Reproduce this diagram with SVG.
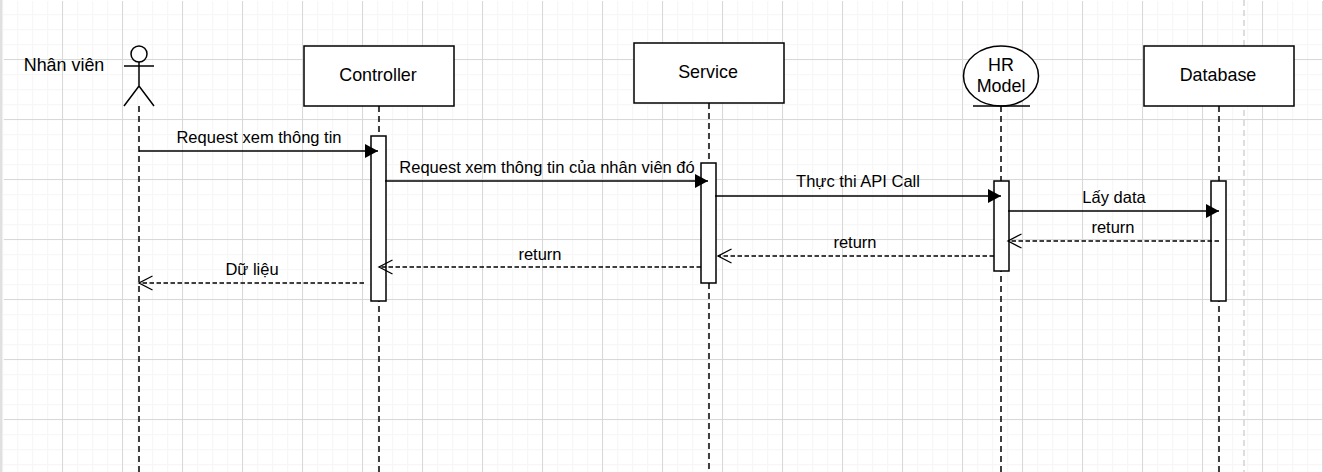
<svg xmlns="http://www.w3.org/2000/svg" width="1323" height="472" viewBox="0 0 1323 472">
<style>
.t{font-family:"Liberation Sans",Arial,sans-serif;font-size:16.5px;fill:#000;text-anchor:middle}
.n{font-size:17.9px}
.b{fill:#fff;stroke:#000;stroke-width:1.5}
.ll{fill:none;stroke:#000;stroke-width:1.5;stroke-dasharray:6 4}
.m{fill:none;stroke:#000;stroke-width:1.5;marker-end:url(#solid)}
.r{fill:none;stroke:#000;stroke-width:1.5;stroke-dasharray:4.500 2.500;marker-end:url(#open)}
</style>
<defs>
<marker id="solid" markerUnits="userSpaceOnUse" markerWidth="15" markerHeight="16" refX="13" refY="7" orient="auto"><path d="M0 0L13 7L0 14Z" fill="#000"/></marker>
<marker id="open" markerUnits="userSpaceOnUse" markerWidth="16" markerHeight="16" refX="14" refY="7.500" orient="auto"><path d="M0.500 0.500L14 7.500L0.500 14.500" fill="none" stroke="#000" stroke-width="1.300"/></marker>
<pattern id="minor" width="15" height="15" patternUnits="userSpaceOnUse" x="2" y="14"><path d="M0.500 0V15M0 0.500H15" stroke="#f7f7f7" stroke-width="1.500" fill="none"/></pattern>
<pattern id="major" width="60" height="60" patternUnits="userSpaceOnUse" x="2" y="-1"><path d="M0.500 0V60M0 0.500H60" stroke="#d8d8d8" stroke-width="1" fill="none"/></pattern>
</defs>
<rect width="1323" height="472" fill="#fff"/>
<rect x="3" y="1" width="1320" height="471" fill="url(#minor)"/>
<rect x="4" y="1" width="1319" height="471" fill="url(#major)"/>
<rect x="0" y="0" width="2.500" height="472" fill="#e0e0e0"/>
<path d="M1244 0V472" stroke="#c8c8c8" stroke-width="1.200" stroke-dasharray="6 4"/>
<g id="lifelines">
<path class="ll" d="M139 106V472"/><path class="ll" d="M379 106V472"/><path class="ll" d="M709 103V472"/><path class="ll" d="M1001 106V472"/><path class="ll" d="M1219 106V472"/>
</g>
<g id="actor">
<circle cx="139" cy="54" r="8" fill="#fff" stroke="#000" stroke-width="1.500"/>
<path d="M139 62V86M124 66H154M124 106L139 86L154 106" fill="none" stroke="#000" stroke-width="1.500"/>
<text class="t n" x="64" y="71">Nhân viên</text>
</g>
<g id="controller"><rect class="b" x="304" y="46" width="150" height="60"/><text class="t n" x="378" y="81">Controller</text></g>
<g id="service"><rect class="b" x="634" y="43" width="150" height="60"/><text class="t n" x="708" y="78">Service</text></g>
<g id="hrmodel"><ellipse class="b" cx="1001" cy="76" rx="37.500" ry="30"/><path d="M973 106H1030" stroke="#000" stroke-width="1.500"/><text class="t n" x="1001" y="71">HR</text><text class="t n" x="1001" y="92">Model</text></g>
<g id="database"><rect class="b" x="1144" y="46" width="150" height="60"/><text class="t n" x="1218" y="81">Database</text></g>
<g id="activations">
<rect class="b" x="371" y="136" width="15" height="165"/>
<rect class="b" x="701" y="163" width="15" height="120"/>
<rect class="b" x="994" y="181" width="15" height="90"/>
<rect class="b" x="1211" y="181" width="15" height="120"/>
</g>
<g id="connectors">
<path class="m" d="M139 151H378"/>
<path class="m" d="M385 181H708"/>
<path class="m" d="M715 196H1001"/>
<path class="m" d="M1008 211H1219"/>
<path class="r" d="M1219 241H1008"/>
<path class="r" d="M994 256H718"/>
<path class="r" d="M701 267H379"/>
<path class="r" d="M364 283H139"/>
</g>
<g id="labels">
<text class="t" x="259" y="143">Request xem thông tin</text>
<text class="t" x="547" y="173">Request xem thông tin của nhân viên đó</text>
<text class="t" x="858" y="187">Thực thi API Call</text>
<text class="t" x="1114" y="203">Lấy data</text>
<text class="t" x="1113" y="233">return</text>
<text class="t" x="855" y="248">return</text>
<text class="t" x="540" y="260">return</text>
<text class="t" x="252" y="275">Dữ liệu</text>
</g>
</svg>
